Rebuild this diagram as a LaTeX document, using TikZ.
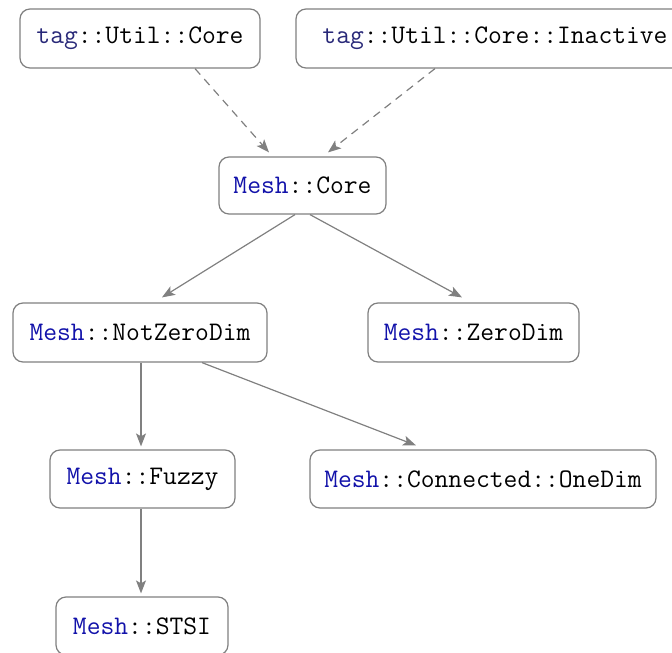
\documentclass[tikz,border=0pt]{standalone}
\usepackage{fontspec}
\usetikzlibrary{arrows.meta,calc}
\definecolor{tagc}{RGB}{40,40,120}
\definecolor{meshc}{RGB}{18,18,170}
\definecolor{edgec}{RGB}{128,128,128}
\tikzset{
  box/.style={draw=edgec, line width=1.2pt, rounded corners=10pt, fill=white,
    inner sep=0pt, minimum height=58pt, font=\fontsize{26.8}{30}\ttfamily, text=black},
  link/.style={draw=edgec, line width=1.2pt, -{Stealth[length=13pt,width=10pt,inset=3pt]}},
  dlink/.style={link, dash pattern=on 8pt off 6pt},
}
\newcommand{\tg}{\textcolor{tagc}{tag}}
\newcommand{\ms}{\textcolor{meshc}{Mesh}}
\begin{document}
\begin{tikzpicture}[x=1pt,y=-1pt]
\useasboundingbox (0,0) rectangle (672,653);
\clip (0,0) rectangle (672,653);
\node[box, minimum width=240pt, minimum height=59pt] (tuc) at (140,38.5) {\tg::Util::Core};
\node[box, minimum width=398pt, minimum height=59pt] (tuci) at (495,38.5) {\tg::Util::Core::Inactive};
\node[box, minimum width=167pt, minimum height=57pt] (core) at (302.5,185.5) {\ms::Core};
\node[box, minimum width=254pt, minimum height=59pt] (nzd) at (140,332.5) {\ms::NotZeroDim};
\node[box, minimum width=211pt, minimum height=59pt] (zd) at (473.5,332.5) {\ms::ZeroDim};
\node[box, minimum width=185pt, minimum height=58pt] (fuzzy) at (142.5,479) {\ms::Fuzzy};
\node[box, minimum width=346pt, minimum height=58pt] (conn) at (483,479) {\ms::Connected::OneDim};
\node[box, minimum width=172pt, minimum height=58pt] (stsi) at (142,626) {\ms::STSI};

\draw[dlink] ($(tuc.south)+(55,0)$) -- ($(core.north)+(-33.5,-4)$);
\draw[dlink] ($(tuci.south)+(-60,0)$) -- ($(core.north)+(25.5,-4)$);
\draw[link] ($(core.south)+(-7.5,0)$) -- ($(nzd.north)+(22,-5)$);
\draw[link] ($(core.south)+(7.5,0)$) -- ($(zd.north)+(-11.5,-5)$);
\draw[link] ($(nzd.south)+(1,0)$) -- ($(fuzzy.north)+(-1.5,-3)$);
\draw[link] ($(nzd.south)+(62,0)$) -- ($(conn.north)+(-67,-4)$);
\draw[link] ($(fuzzy.south)+(-1.5,0)$) -- ($(stsi.north)+(-1,-3)$);
\end{tikzpicture}
\end{document}
